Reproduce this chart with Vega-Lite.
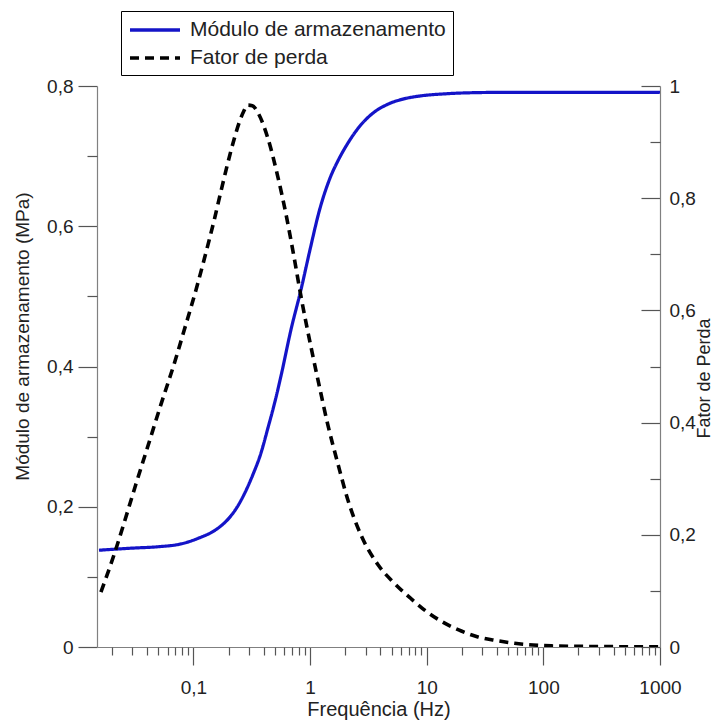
{
  "$schema": "https://vega.github.io/schema/vega-lite/v6.json",
  "autosize": {"type": "none"},
  "width": 563,
  "height": 561,
  "padding": {"left": 97, "top": 86, "right": 56, "bottom": 75},
  "background": "#ffffff",
  "config": {
    "font": "Liberation Sans",
    "view": {"stroke": null},
    "axis": {
      "grid": false,
      "domainColor": "#808080",
      "domainWidth": 1.2,
      "tickColor": "#555555",
      "tickWidth": 1.2,
      "labelColor": "#222222",
      "titleColor": "#222222",
      "labelFontSize": 19,
      "titleFontSize": 20,
      "titleFontWeight": "normal",
      "labelFont": "Liberation Sans",
      "titleFont": "Liberation Sans"
    },
    "legend": {
      "orient": "none",
      "legendX": 24,
      "legendY": -75,
      "direction": "vertical",
      "strokeColor": "#000000",
      "fillColor": "#ffffff",
      "padding": 7,
      "symbolType": "M-1,0H4",
      "symbolSize": 400,
      "symbolStrokeWidth": 3.5,
      "labelFontSize": 21,
      "labelColor": "#222222",
      "labelFont": "Liberation Sans",
      "labelOffset": 38,
      "rowPadding": 6,
      "labelLimit": 400
    }
  },
  "datasets": {
    "modulo": [
      {"s": "Módulo de armazenamento", "f": 0.0155, "v": 0.138},
      {"s": "Módulo de armazenamento", "f": 0.03, "v": 0.141},
      {"s": "Módulo de armazenamento", "f": 0.05, "v": 0.143},
      {"s": "Módulo de armazenamento", "f": 0.078, "v": 0.147},
      {"s": "Módulo de armazenamento", "f": 0.11, "v": 0.155},
      {"s": "Módulo de armazenamento", "f": 0.161, "v": 0.169},
      {"s": "Módulo de armazenamento", "f": 0.2, "v": 0.183},
      {"s": "Módulo de armazenamento", "f": 0.24, "v": 0.201},
      {"s": "Módulo de armazenamento", "f": 0.28, "v": 0.222},
      {"s": "Módulo de armazenamento", "f": 0.322, "v": 0.245},
      {"s": "Módulo de armazenamento", "f": 0.38, "v": 0.277},
      {"s": "Módulo de armazenamento", "f": 0.433, "v": 0.311},
      {"s": "Módulo de armazenamento", "f": 0.5, "v": 0.35},
      {"s": "Módulo de armazenamento", "f": 0.564, "v": 0.387},
      {"s": "Módulo de armazenamento", "f": 0.687, "v": 0.453},
      {"s": "Módulo de armazenamento", "f": 0.837, "v": 0.51},
      {"s": "Módulo de armazenamento", "f": 1.0, "v": 0.567},
      {"s": "Módulo de armazenamento", "f": 1.2, "v": 0.622},
      {"s": "Módulo de armazenamento", "f": 1.51, "v": 0.672},
      {"s": "Módulo de armazenamento", "f": 1.73, "v": 0.693},
      {"s": "Módulo de armazenamento", "f": 2.1, "v": 0.718},
      {"s": "Módulo de armazenamento", "f": 2.74, "v": 0.745},
      {"s": "Módulo de armazenamento", "f": 3.5, "v": 0.762},
      {"s": "Módulo de armazenamento", "f": 4.64, "v": 0.774},
      {"s": "Módulo de armazenamento", "f": 6.5, "v": 0.782},
      {"s": "Módulo de armazenamento", "f": 8.97, "v": 0.786},
      {"s": "Módulo de armazenamento", "f": 15, "v": 0.789},
      {"s": "Módulo de armazenamento", "f": 19.8, "v": 0.79},
      {"s": "Módulo de armazenamento", "f": 50, "v": 0.791},
      {"s": "Módulo de armazenamento", "f": 1000, "v": 0.791}
    ],
    "perda": [
      {"s": "Fator de perda", "f": 0.0161, "v": 0.098},
      {"s": "Fator de perda", "f": 0.0209, "v": 0.165},
      {"s": "Fator de perda", "f": 0.0255, "v": 0.222},
      {"s": "Fator de perda", "f": 0.0321, "v": 0.29},
      {"s": "Fator de perda", "f": 0.0404, "v": 0.356},
      {"s": "Fator de perda", "f": 0.0526, "v": 0.432},
      {"s": "Fator de perda", "f": 0.0708, "v": 0.515},
      {"s": "Fator de perda", "f": 0.0834, "v": 0.565},
      {"s": "Fator de perda", "f": 0.105, "v": 0.636},
      {"s": "Fator de perda", "f": 0.124, "v": 0.692},
      {"s": "Fator de perda", "f": 0.151, "v": 0.762},
      {"s": "Fator de perda", "f": 0.172, "v": 0.812},
      {"s": "Fator de perda", "f": 0.21, "v": 0.885},
      {"s": "Fator de perda", "f": 0.247, "v": 0.935},
      {"s": "Fator de perda", "f": 0.27, "v": 0.955},
      {"s": "Fator de perda", "f": 0.292, "v": 0.966},
      {"s": "Fator de perda", "f": 0.32, "v": 0.965},
      {"s": "Fator de perda", "f": 0.356, "v": 0.953},
      {"s": "Fator de perda", "f": 0.433, "v": 0.908},
      {"s": "Fator de perda", "f": 0.528, "v": 0.839},
      {"s": "Fator de perda", "f": 0.622, "v": 0.771},
      {"s": "Fator de perda", "f": 0.733, "v": 0.692},
      {"s": "Fator de perda", "f": 0.837, "v": 0.624},
      {"s": "Fator de perda", "f": 1.02, "v": 0.534},
      {"s": "Fator de perda", "f": 1.2, "v": 0.465},
      {"s": "Fator de perda", "f": 1.42, "v": 0.396},
      {"s": "Fator de perda", "f": 1.73, "v": 0.327},
      {"s": "Fator de perda", "f": 2.11, "v": 0.262},
      {"s": "Fator de perda", "f": 2.74, "v": 0.199},
      {"s": "Fator de perda", "f": 3.81, "v": 0.147},
      {"s": "Fator de perda", "f": 5.2, "v": 0.115},
      {"s": "Fator de perda", "f": 7.36, "v": 0.086},
      {"s": "Fator de perda", "f": 10, "v": 0.063},
      {"s": "Fator de perda", "f": 13.3, "v": 0.046},
      {"s": "Fator de perda", "f": 19.8, "v": 0.0285},
      {"s": "Fator de perda", "f": 27.5, "v": 0.018},
      {"s": "Fator de perda", "f": 38.2, "v": 0.012},
      {"s": "Fator de perda", "f": 56.7, "v": 0.0066},
      {"s": "Fator de perda", "f": 81.6, "v": 0.0036},
      {"s": "Fator de perda", "f": 117, "v": 0.002},
      {"s": "Fator de perda", "f": 316, "v": 0.0008},
      {"s": "Fator de perda", "f": 1000, "v": 0.0003}
    ]
  },
  "layer": [
    {
      "data": {"name": "modulo"},
      "mark": {"type": "line", "strokeWidth": 3.2, "interpolate": "monotone", "clip": true},
      "encoding": {
        "x": {
          "field": "f", "type": "quantitative",
          "scale": {"type": "log", "domain": [0.0149, 1000], "nice": false},
          "axis": {
            "orient": "bottom",
            "values": [0.1, 1, 10, 100, 1000],
            "format": "~g",
            "labelExpr": "replace(datum.label, '.', ',')",
            "tickSize": 18,
            "labelPadding": 13,
            "labelBaseline": "top",
            "labelFlush": false,
            "title": "Frequência (Hz)",
            "titleBaseline": "alphabetic",
            "titleY": 68
          }
        },
        "y": {
          "field": "v", "type": "quantitative",
          "scale": {"domain": [0, 0.8], "nice": false, "zero": true},
          "axis": {
            "orient": "left",
            "values": [0, 0.2, 0.4, 0.6, 0.8],
            "format": "~g",
            "labelExpr": "replace(datum.label, '.', ',')",
            "tickSize": 19,
            "labelPadding": 5,
            "title": "Módulo de armazenamento (MPa)",
            "titleFontSize": 19,
            "titleAngle": 270,
            "titleBaseline": "middle",
            "titleX": -75,
            "titleY": 250
          }
        },
        "color": {
          "field": "s", "type": "nominal",
          "scale": {"domain": ["Módulo de armazenamento", "Fator de perda"], "range": ["#1414c8", "#000000"]},
          "legend": {"title": null}
        },
        "strokeDash": {
          "field": "s", "type": "nominal",
          "scale": {"domain": ["Módulo de armazenamento", "Fator de perda"], "range": [[1, 0], [9, 6]]},
          "legend": {"title": null}
        }
      }
    },
    {
      "data": {"name": "modulo"},
      "mark": {"type": "line", "strokeOpacity": 0},
      "encoding": {
        "x": {
          "field": "f", "type": "quantitative",
          "scale": {"type": "log", "domain": [0.0149, 1000], "nice": false},
          "axis": {
            "orient": "bottom",
            "values": [0.02, 0.03, 0.04, 0.05, 0.06, 0.07, 0.08, 0.09, 0.2, 0.3, 0.4, 0.5, 0.6, 0.7, 0.8, 0.9, 2, 3, 4, 5, 6, 7, 8, 9, 20, 30, 40, 50, 60, 70, 80, 90, 200, 300, 400, 500, 600, 700, 800, 900],
            "tickSize": 8,
            "labels": false,
            "domain": false,
            "title": null
          }
        },
        "y": {
          "field": "v", "type": "quantitative",
          "scale": {"domain": [0, 0.8], "nice": false},
          "axis": {
            "orient": "left",
            "values": [0.1, 0.3, 0.5, 0.7],
            "tickSize": 10,
            "labels": false,
            "domain": false,
            "title": null
          }
        }
      }
    },
    {
      "data": {"name": "perda"},
      "mark": {"type": "line", "strokeWidth": 3.6, "interpolate": "monotone", "clip": true},
      "encoding": {
        "x": {"field": "f", "type": "quantitative", "scale": {"type": "log", "domain": [0.0149, 1000], "nice": false}, "axis": null},
        "y": {
          "field": "v", "type": "quantitative",
          "scale": {"domain": [0, 1], "nice": false},
          "axis": {
            "orient": "right",
            "values": [0, 0.2, 0.4, 0.6, 0.8, 1],
            "format": "~g",
            "labelExpr": "replace(datum.label, '.', ',')",
            "tickSize": -19,
            "labelPadding": 28,
            "title": "Fator de Perda",
            "titleFontSize": 18,
            "titleAngle": 270,
            "titleBaseline": "top",
            "titleX": 35,
            "titleY": 292
          }
        },
        "color": {"field": "s", "type": "nominal", "legend": {"title": null}},
        "strokeDash": {"field": "s", "type": "nominal", "legend": {"title": null}}
      }
    },
    {
      "data": {"name": "perda"},
      "mark": {"type": "line", "strokeOpacity": 0},
      "encoding": {
        "x": {"field": "f", "type": "quantitative", "scale": {"type": "log", "domain": [0.0149, 1000], "nice": false}, "axis": null},
        "y": {
          "field": "v", "type": "quantitative",
          "scale": {"domain": [0, 1], "nice": false},
          "axis": {
            "orient": "right",
            "values": [0.1, 0.3, 0.5, 0.7, 0.9],
            "tickSize": -10,
            "labels": false,
            "domain": false,
            "title": null
          }
        }
      }
    }
  ],
  "resolve": {
    "scale": {"y": "independent"},
    "axis": {"x": "independent", "y": "independent"}
  }
}
